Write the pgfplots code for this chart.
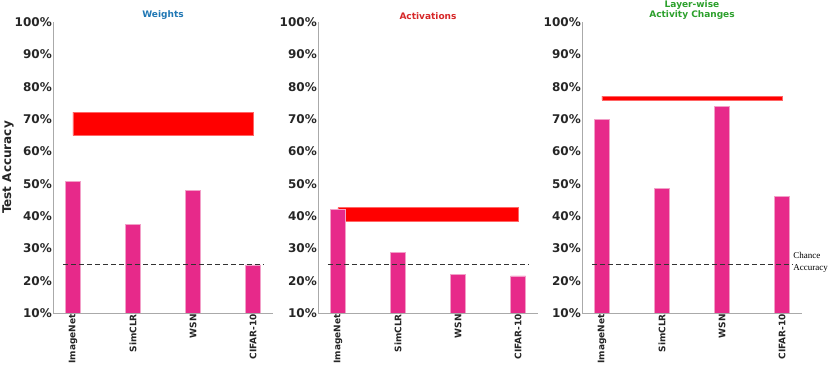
\documentclass[border=0pt]{standalone}
\usepackage{pgfplots}
\pgfplotsset{compat=1.18}
\usepackage{fontspec}
\setmainfont{DejaVu Sans}
\newfontfamily\serifchance{Liberation Serif}
\definecolor{barpink}{RGB}{231,41,138}
\definecolor{baredge}{RGB}{242,160,200}
\definecolor{tblue}{RGB}{31,119,180}
\definecolor{tred}{RGB}{214,39,40}
\definecolor{tgreen}{RGB}{44,160,44}
\definecolor{spine}{RGB}{170,170,170}
\definecolor{ticktext}{RGB}{38,38,38}
\pgfplotsset{panel/.style={
 scale only axis, width=220pt, height=291pt,
 xmin=-0.333, xmax=3.333, ymin=10, ymax=100,
 axis x line*=bottom, axis y line*=left,
 axis line style={spine, line width=0.8pt},
 xtick={0,1,2,3}, xticklabels={ImageNet,SimCLR,WSN,CIFAR-10},
 ytick={10,20,...,100},
 yticklabel={\pgfmathprintnumber[assume math mode=true]{\tick}\%},
 major tick length=0pt,
 tick style={draw=none},
 xticklabel style={rotate=90, anchor=east, font=\bfseries\fontsize{9}{10}\selectfont, text=ticktext, inner sep=1pt},
 yticklabel style={font=\bfseries\fontsize{12}{14}\selectfont, text=ticktext, inner sep=1pt},
 title style={at={(axis description cs:0.5,1)}, anchor=south, yshift=-4pt, font=\bfseries\fontsize{9}{10.7}\selectfont, align=center, inner sep=0pt},
 clip mode=individual,
}}
\begin{document}
\begin{tikzpicture}
\useasboundingbox (0,0) rectangle (830pt,369pt);
% Panel 1
\begin{axis}[panel, at={(53pt,56pt)}, anchor=south west,
  title={Weights}, title style={text=tblue},
  ylabel={Test Accuracy},
  ylabel style={at={(axis description cs:-0.2045,0.5)}, anchor=center, font=\bfseries\fontsize{12}{14}\selectfont, text=ticktext}]
\addplot[fill=red, draw=red!60!white, line width=0.4pt] coordinates {(0,64.9) (3,64.9) (3,72.1) (0,72.1) (0,64.9)};
\addplot[ybar, bar width=15pt, fill=barpink, draw=baredge, line width=0.6pt] coordinates {(0,50.6) (1,37.5) (2,47.8) (3,24.9)};
\addplot[black!80, line width=1.3pt, dash pattern=on 5pt off 3pt] coordinates {(-0.17,25) (3.17,25)};
\end{axis}
% Panel 2
\begin{axis}[panel, at={(318pt,56pt)}, anchor=south west,
  title={Activations}, title style={text=tred}]
\addplot[fill=red, draw=red!60!white, line width=0.4pt] coordinates {(0,38.5) (3,38.5) (3,42.6) (0,42.6) (0,38.5)};
\addplot[ybar, bar width=15pt, fill=barpink, draw=baredge, line width=0.6pt] coordinates {(0,42.1) (1,28.7) (2,22.0) (3,21.5)};
\addplot[black!80, line width=1.3pt, dash pattern=on 5pt off 3pt] coordinates {(-0.17,25) (3.17,25)};
\end{axis}
% Panel 3
\begin{axis}[panel, at={(582pt,56pt)}, anchor=south west,
  title={Layer-wise\\Activity Changes}, title style={text=tgreen}]
\addplot[fill=red, draw=red!60!white, line width=0.4pt] coordinates {(0,75.9) (3,75.9) (3,77.1) (0,77.1) (0,75.9)};
\addplot[ybar, bar width=15pt, fill=barpink, draw=baredge, line width=0.6pt] coordinates {(0,70.0) (1,48.6) (2,73.8) (3,46.0)};
\addplot[black!80, line width=1.3pt, dash pattern=on 5pt off 3pt] coordinates {(-0.17,25) (3.17,25)};
\node[anchor=west, align=left, font=\serifchance\fontsize{9}{12}\selectfont, inner sep=0pt, xshift=1pt, yshift=2pt] at (axis cs:3.17,25) {Chance\\Accuracy};
\end{axis}
\end{tikzpicture}
\end{document}
